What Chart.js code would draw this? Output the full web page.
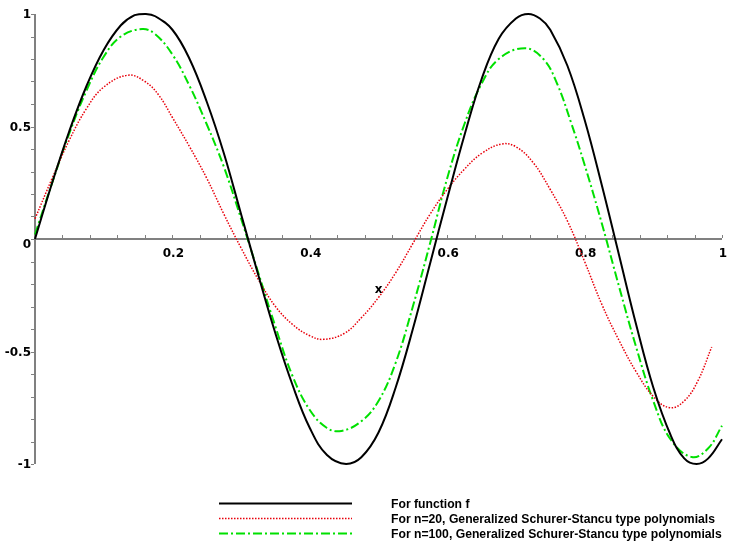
<!DOCTYPE html>
<html>
<head>
<meta charset="utf-8">
<script src="https://cdn.jsdelivr.net/npm/chart.js@4"></script>
<style>
  html, body { margin: 0; padding: 0; background: #fff; }
  #wrap { width: 747px; height: 546px; }
</style>
</head>
<body>
<div id="wrap"><canvas id="plot" width="747" height="546"></canvas></div>
<script>
// values
var fX = [0,0.025,0.05,0.075,0.1,0.125,0.145,0.16,0.175,0.2,0.225,0.25,0.275,0.3,0.325,0.35,0.375,0.4,0.425,0.453,0.475,0.5,0.525,0.55,0.575,0.6,0.625,0.65,0.675,0.7,0.718,0.735,0.75,0.775,0.8,0.825,0.85,0.875,0.9,0.925,0.945,0.963,0.98,1]
var fY = [0,0.25,0.48,0.68,0.84,0.95,0.995,1.0,0.99,0.93,0.80,0.61,0.38,0.11,-0.16,-0.42,-0.65,-0.84,-0.96,-1.0,-0.97,-0.86,-0.66,-0.40,-0.11,0.18,0.46,0.71,0.89,0.98,1.0,0.98,0.93,0.77,0.53,0.24,-0.07,-0.38,-0.66,-0.87,-0.975,-1.0,-0.975,-0.89]

var n20X = [0,0.025,0.05,0.075,0.1,0.135,0.16,0.18,0.2,0.225,0.25,0.275,0.3,0.325,0.35,0.375,0.4,0.42,0.45,0.475,0.5,0.525,0.55,0.575,0.6,0.625,0.65,0.679,0.7,0.725,0.75,0.775,0.8,0.825,0.85,0.875,0.9,0.924,0.945,0.965,0.985]
var n20Y = [0.09,0.27,0.44,0.58,0.675,0.728,0.70,0.64,0.54,0.41,0.27,0.11,-0.04,-0.18,-0.30,-0.38,-0.43,-0.446,-0.42,-0.35,-0.26,-0.15,-0.02,0.11,0.22,0.31,0.38,0.422,0.41,0.34,0.22,0.08,-0.10,-0.29,-0.45,-0.59,-0.70,-0.75,-0.72,-0.63,-0.48]

var n100X = [0,0.025,0.05,0.075,0.1,0.125,0.156,0.175,0.2,0.225,0.25,0.275,0.3,0.325,0.35,0.375,0.4,0.425,0.446,0.475,0.5,0.525,0.55,0.575,0.6,0.625,0.65,0.675,0.713,0.74,0.76,0.78,0.8,0.825,0.85,0.875,0.9,0.925,0.956,0.98,1]
var n100Y = [0.02,0.25,0.47,0.66,0.81,0.90,0.933,0.91,0.82,0.68,0.51,0.32,0.09,-0.15,-0.39,-0.61,-0.76,-0.84,-0.853,-0.81,-0.72,-0.55,-0.30,-0.02,0.27,0.51,0.69,0.80,0.848,0.80,0.69,0.52,0.33,0.07,-0.21,-0.48,-0.72,-0.89,-0.969,-0.93,-0.83]

var xLabels = [0.2, 0.4, 0.6, 0.8, 1]
var yLabels = [1, 0.5, 0, -0.5, -1]
var legendNames = ['For function f', 'For n=20, Generalized Schurer-Stancu type polynomials', 'For n=100, Generalized Schurer-Stancu type polynomials']

function pts(xs, ys) {
  return xs.map(function (x, i) { return { x: x, y: ys[i] } })
}

var axisColor = '#808080'

// axes crossing at the origin, Maple style
var axesPlugin = {
  id: 'mapleAxes',
  beforeDatasetsDraw: function (chart) {
    var ctx = chart.ctx, xs = chart.scales.x, ys = chart.scales.y
    var x0 = xs.getPixelForValue(0), y0 = ys.getPixelForValue(0)
    ctx.save()
    ctx.strokeStyle = axisColor
    ctx.lineWidth = 2
    ctx.beginPath()
    ctx.moveTo(x0, ys.getPixelForValue(1))
    ctx.lineTo(x0, ys.getPixelForValue(-1))
    ctx.moveTo(x0, y0)
    ctx.lineTo(xs.getPixelForValue(1), y0)
    ctx.stroke()
    ctx.lineWidth = 1
    ctx.beginPath()
    for (var i = 1; i <= 25; i++) {
      var px = Math.round(xs.getPixelForValue(i * 0.04)) + 0.5
      ctx.moveTo(px, y0 - 1)
      ctx.lineTo(px, y0 - 4)
    }
    for (var j = -10; j <= 10; j++) {
      var py = Math.round(ys.getPixelForValue(j * 0.1)) + 0.5
      ctx.moveTo(x0 - 1, py)
      ctx.lineTo(x0 - 4, py)
    }
    ctx.stroke()

    ctx.fillStyle = '#000'
    ctx.font = 'bold 12px "DejaVu Sans"'
    ctx.textAlign = 'center'
    ctx.textBaseline = 'top'
    xLabels.forEach(function (v) {
      ctx.fillText(String(v), xs.getPixelForValue(v) + 1, y0 + 9)
    })
    ctx.textAlign = 'right'
    ctx.textBaseline = 'middle'
    yLabels.forEach(function (v) {
      var py = ys.getPixelForValue(v)
      if (v === 0) py += 5
      ctx.fillText(String(v), x0 - 4, py + 1)
    })
    ctx.textAlign = 'center'
    ctx.fillText('x', xs.getPixelForValue(0.5), y0 + 51)
    ctx.restore()
  },
  afterDraw: function (chart) {
    var ctx = chart.ctx
    var rows = [503, 518, 533]
    ctx.save()
    ctx.font = 'bold 13px "Liberation Sans"'
    var sx = 324 / ctx.measureText(legendNames[1]).width
    chart.data.datasets.forEach(function (ds, i) {
      var y = rows[i] + 0.5
      ctx.strokeStyle = ds.borderColor
      ctx.lineWidth = ds.borderWidth
      ctx.setLineDash(ds.borderDash || [])
      ctx.beginPath()
      ctx.moveTo(219, y)
      ctx.lineTo(352, y)
      ctx.stroke()
      ctx.setLineDash([])
      ctx.save()
      ctx.translate(391, rows[i] + 1)
      ctx.scale(sx, 1)
      ctx.fillStyle = '#000'
      ctx.textBaseline = 'middle'
      ctx.textAlign = 'left'
      ctx.fillText(legendNames[i], 0, 0)
      ctx.restore()
    })
    ctx.restore()
  }
}

var chartdata = {
  datasets: [{
    label: legendNames[0],
    data: pts(fX, fY),
    borderColor: '#000000',
    borderWidth: 2,
    tension: 0.4
  }, {
    label: legendNames[1],
    data: pts(n20X, n20Y),
    borderColor: '#e8000b',
    borderWidth: 1.5,
    borderDash: [1.5, 1.5],
    tension: 0.4
  }, {
    label: legendNames[2],
    data: pts(n100X, n100Y),
    borderColor: '#00e000',
    borderWidth: 2,
    borderDash: [9, 3, 2, 3],
    tension: 0.4
  }]
}

var config = {
  type: 'line',
  data: chartdata,
  options: {
    responsive: false,
    animation: false,
    layout: { padding: { left: 35, right: 25, top: 14, bottom: 82 } },
    elements: { point: { radius: 0 } },
    datasets: { line: { clip: 6, fill: false } },
    scales: {
      x: { type: 'linear', min: 0, max: 1, display: false },
      y: { type: 'linear', min: -1, max: 1, display: false }
    },
    plugins: { legend: { display: false }, tooltip: { enabled: false } }
  },
  plugins: [axesPlugin]
}

var myChart = new Chart(document.getElementById('plot'), config)
</script>
</body>
</html>
